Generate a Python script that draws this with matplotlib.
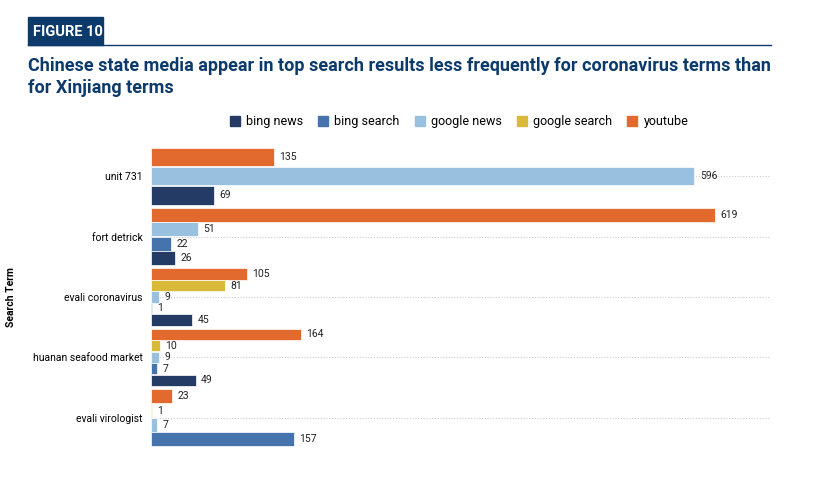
import matplotlib.pyplot as plt
from matplotlib.patches import Rectangle

terms = ["unit 731", "fort detrick", "evali coronavirus", "huanan seafood market", "evali virologist"]
series = ["bing news", "bing search", "google news", "google search", "youtube"]
colors = ["#243b66", "#4574ac", "#9ac0e0", "#d9b93a", "#e36a2e"]
# values per term, None = no bar
bing_news = [69, 26, 45, 49, None]
bing_search = [None, 22, 1, 7, 157]
google_news = [596, 51, 9, 9, 7]
google_search = [None, None, 81, 10, 1]
youtube = [135, 619, 105, 164, 23]
values = [bing_news, bing_search, google_news, google_search, youtube]

plt.rcParams['font.family'] = ['Roboto', 'DejaVu Sans']
fig = plt.figure(figsize=(8.19, 5.03), dpi=100)

fig.patches.append(Rectangle((28 / 819, 1 - 45 / 503), 75 / 819, 28 / 503,
                             transform=fig.transFigure, color="#0b3a6b"))
fig.text(33 / 819, 1 - 32 / 503, "FIGURE 10", color="white", fontsize=10.5,
         fontweight="bold", va="center")
fig.add_artist(plt.Line2D([28 / 819, 771 / 819], [1 - 45 / 503] * 2,
                          color="#0b3a6b", lw=1, transform=fig.transFigure))
fig.text(28 / 819, 1 - 77 / 503,
         "Chinese state media appear in top search results less frequently for coronavirus terms than\nfor Xinjiang terms",
         color="#0b3a6b", fontsize=13, fontweight="bold", va="center", linespacing=1.3)

ax = fig.add_axes([151 / 819, 1 - 448 / 503, 620 / 819, 302 / 503])
band = 0.95
for i, term in enumerate(terms):
    present = [(k, values[k][i]) for k in range(len(series)) if values[k][i] is not None]
    present = present[::-1]  # youtube at top
    n = len(present)
    h = band / n
    top = i - band / 2
    for j, (k, v) in enumerate(present):
        y = top + h * (j + 0.5)
        ax.barh(y, v, height=h * 0.97, color=colors[k], edgecolor="white", linewidth=0.5)
        ax.text(v + 6, y, str(v), va="center", fontsize=7.5, color="#222222")
    ax.axhline(i, color="#cccccc", lw=0.8, ls=(0, (1, 1.5)), zorder=0)

ax.set_ylim(len(terms) - 0.5, -0.5)
ax.set_xlim(0, 680)
ax.set_yticks(range(len(terms)))
ax.set_yticklabels(terms, fontsize=7.5)
ax.set_xticks([])
ax.tick_params(axis="y", length=0, pad=6)
for s in ax.spines.values():
    s.set_visible(False)
ax.set_ylabel("Search Term", fontsize=7.5, fontweight="bold", labelpad=12)

handles = [Rectangle((0, 0), 1, 1, color=c) for c in colors]
fig.legend(handles, series, loc="center", bbox_to_anchor=(459 / 819, 1 - 122 / 503),
           ncol=5, frameon=False, fontsize=9, handlelength=0.8, handleheight=0.8,
           columnspacing=1.2, handletextpad=0.5)

fig.savefig("out.png", dpi=100)
